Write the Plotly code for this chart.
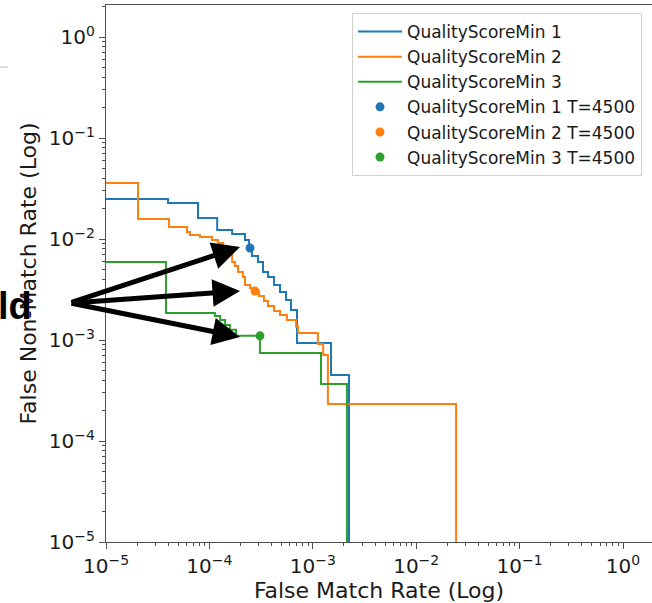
import plotly.graph_objects as go

# ---------------- data ----------------
series_names = ["QualityScoreMin 1", "QualityScoreMin 2", "QualityScoreMin 3"]
colors = ["#1f77b4", "#ff7f0e", "#2ca02c"]

fmr_q1 = [1e-6, 3.98e-5, 7.76e-5, 1.19e-4, 1.66e-4, 2.21e-4, 2.42e-4, 2.58e-4, 2.95e-4,
          3.30e-4, 3.69e-4, 4.22e-4, 4.82e-4, 5.51e-4, 6.15e-4, 7.03e-4, 1.50e-3, 2.24e-3]
fnmr_q1 = [0.0249, 0.0227, 0.01614, 0.01227, 0.01122, 0.00977, 0.00815, 0.00679, 0.00591,
           0.00471, 0.00421, 0.00351, 0.00299, 0.00249, 0.00198, 0.000933, 0.000450, 1e-8]

fmr_q2 = [1e-6, 2.04e-5, 4.06e-5, 6.07e-5, 6.49e-5, 8.11e-5, 1.06e-4, 1.21e-4, 1.36e-4,
          1.66e-4, 1.77e-4, 1.89e-4, 2.11e-4, 2.21e-4, 2.47e-4, 2.82e-4, 3.02e-4, 3.37e-4,
          3.69e-4, 4.22e-4, 4.82e-4, 5.62e-4, 6.89e-4, 7.19e-4, 1.12e-3, 1.26e-3, 1.40e-3, 0.0243]
fnmr_q2 = [0.0358, 0.01578, 0.01315, 0.01172, 0.01096, 0.01047, 0.00977, 0.00912, 0.00778,
           0.00591, 0.00541, 0.00471, 0.00421, 0.00351, 0.00327, 0.00305, 0.00273, 0.00243,
           0.00217, 0.00194, 0.00177, 0.00158, 0.00135, 0.00117, 0.000912, 0.000709, 0.000232, 1e-8]

fmr_q3 = [1e-6, 3.80e-5, 1.13e-4, 1.27e-4, 1.42e-4, 1.58e-4, 1.81e-4, 3.08e-4, 1.20e-3, 2.14e-3]
fnmr_q3 = [0.00591, 0.00185, 0.00173, 0.00158, 0.00141, 0.00126, 0.00110, 0.000743, 0.000366, 1e-8]

# operating points at threshold T=4500
op_fmr = [2.47e-4, 2.76e-4, 3.08e-4]
op_fnmr = [8.15e-3, 3.05e-3, 1.10e-3]
op_label = "T=4500"

x_tick_vals = [1e-5, 1e-4, 1e-3, 1e-2, 1e-1, 1e0]
x_tick_text = ["10<sup>−5</sup>", "10<sup>−4</sup>", "10<sup>−3</sup>", "10<sup>−2</sup>",
               "10<sup>−1</sup>", "10<sup>0</sup>"]
y_tick_vals = [1e-5, 1e-4, 1e-3, 1e-2, 1e-1, 1e0]
y_tick_text = x_tick_text

x_title = "False Match Rate (Log)"
y_title = "False Non-Match Rate (Log)"
callout_text = "Threshold"

# arrow tips (log10 coordinates) near the operating points
arrow_tip_x = [-3.704, -3.704, -3.704]
arrow_tip_y = [-2.079, -2.515, -2.97]

# ---------------- figure ----------------
fig = go.Figure()
curves = [(fmr_q1, fnmr_q1), (fmr_q2, fnmr_q2), (fmr_q3, fnmr_q3)]
for i, (fx, fy) in enumerate(curves):
    fig.add_trace(go.Scatter(
        x=fx, y=fy, mode="lines", name=series_names[i], legendgroup=f"l{i}",
        line=dict(color=colors[i], width=2, shape="hv"), cliponaxis=True))
for i in range(3):
    fig.add_trace(go.Scatter(
        x=[op_fmr[i]], y=[op_fnmr[i]], mode="markers",
        name=f"{series_names[i]} {op_label}", legendgroup=f"m{i}",
        marker=dict(color=colors[i], size=9)))

W, H = 652, 603
ml, mr, mt, mb = 106, 0, 5, 61
plot_w = W - ml - mr
plot_h = H - mt - mb
dec_x = 103.4
dec_y = 101.0
x_range = [-5, -5 + plot_w / dec_x]
y_range = [-5, -5 + plot_h / dec_y]

axis_color = "#505050"
text_color = "#1a1a1a"
tick_font = dict(family="DejaVu Sans", size=20, color=text_color)
title_font = dict(family="DejaVu Sans", size=22, color=text_color)

fig.update_xaxes(
    type="log", range=x_range, tickvals=x_tick_vals, ticktext=x_tick_text,
    showgrid=False, zeroline=False, showline=True, linecolor=axis_color, linewidth=1.4,
    mirror=True, ticks="outside", ticklen=6, tickcolor=axis_color, tickfont=tick_font,
    minor=dict(ticks="outside", ticklen=3, tickcolor=axis_color, dtick="D1", showgrid=False),
    title=dict(text=x_title, font=title_font, standoff=3),
)
fig.update_yaxes(
    type="log", range=y_range, tickvals=y_tick_vals, ticktext=y_tick_text,
    showgrid=False, zeroline=False, showline=True, linecolor=axis_color, linewidth=1.4,
    mirror=False, ticks="outside", ticklen=6, tickcolor=axis_color, tickfont=tick_font,
    minor=dict(ticks="outside", ticklen=3, tickcolor=axis_color, dtick="D1", showgrid=False),
    title=dict(text=y_title, font=title_font, standoff=6),
)

annotations = [dict(
    x=(34 - ml) / plot_w, y=(H - mb - 306) / plot_h, xref="paper", yref="paper",
    text=f"<b>{callout_text}</b>", showarrow=False, xanchor="right", yanchor="middle",
    font=dict(family="Liberation Sans", size=38, color="black"))]
for tx, ty, dy in zip(arrow_tip_x, arrow_tip_y, [56, 12, -34]):
    annotations.append(dict(
        x=tx, y=ty, xref="x", yref="y", ax=-170, ay=dy, axref="pixel", ayref="pixel",
        showarrow=True, arrowhead=2, arrowsize=1.1, arrowwidth=5, arrowcolor="black",
        text="", standoff=0, startstandoff=0))

fig.update_layout(
    width=W, height=H, margin=dict(l=ml, r=mr, t=mt, b=mb),
    paper_bgcolor="white", plot_bgcolor="white",
    annotations=annotations,
    shapes=[dict(type="line", xref="paper", yref="paper",
                 x0=(0 - ml) / plot_w, x1=(8 - ml) / plot_w,
                 y0=(H - mb - 67) / plot_h, y1=(H - mb - 67) / plot_h,
                 line=dict(color="#dddddd", width=2))],
    legend=dict(x=(352 - ml) / plot_w, y=(H - mb - 13) / plot_h, xanchor="left", yanchor="top",
                bgcolor="white", bordercolor="#d0d0d0", borderwidth=1,
                font=dict(family="DejaVu Sans", size=17, color=text_color),
                traceorder="grouped", tracegroupgap=0, itemwidth=44),
    showlegend=True,
)

fig.write_html("out.html")
